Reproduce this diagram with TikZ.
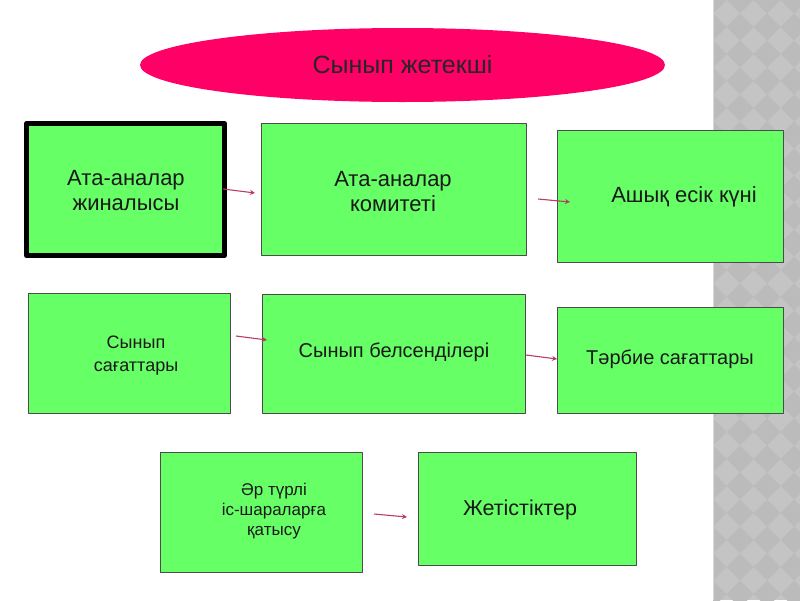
\documentclass[tikz,border=0pt]{standalone}
\usepackage{fontspec}
\setmainfont{Liberation Sans}
\usetikzlibrary{arrows.meta,shapes.geometric}

\definecolor{boxgreen}{HTML}{66FF66}
\definecolor{ovalpink}{HTML}{FF0066}
\definecolor{arrowred}{HTML}{B83C64}
\definecolor{stripA}{HTML}{C4C4C4}
\definecolor{stripB}{HTML}{BBBBBB}

\begin{document}
\begin{tikzpicture}[x=1pt,y=-1pt, line join=round,
  box/.style={draw=black!70, fill=boxgreen, line width=0.9pt, inner sep=0pt},
  txt/.style={align=center, text=black!90, font=\fontsize{22}{25}\selectfont},
  arr/.style={draw=arrowred, line width=1.1pt, -{Stealth[length=5pt,width=5pt]}}]
\useasboundingbox (0,0) rectangle (800,600);
\fill[white] (0,0) rectangle (800,600);
% grey strip at the right
\begin{scope}
\clip (713,0) rectangle (800,600);
\fill[stripA] (713,0) rectangle (800,600);
\foreach \i in {0,...,4}
  \foreach \j in {0,...,23}
    \fill[stripB] ({713+27*\i+13.5},{27*\j}) -- ++(-13.5,13.5) -- ++(-13.5,-13.5) -- ++(13.5,-13.5) -- cycle;
\end{scope}
\draw[white!85!black, line width=1pt] (713.5,0) -- (713.5,600);

% title oval
\node[ellipse, fill=ovalpink, minimum width=525pt, minimum height=74pt, inner sep=0pt,
  text=black!85, font=\fontsize{25}{29}\selectfont] (head) at (402.5,65) {Сынып жетекші};

% boxes
\node[box, draw=black, line width=5pt, minimum width=198pt, minimum height=132pt] (b1) at (125.5,189.5) {};
\node[box, minimum width=265pt, minimum height=132pt] (b2) at (393.5,189) {};
\node[box, minimum width=226pt, minimum height=132pt] (b3) at (670,196) {};
\node[box, minimum width=202pt, minimum height=120pt] (b4) at (129,353) {};
\node[box, minimum width=263pt, minimum height=119pt] (b5) at (393.5,353.5) {};
\node[box, minimum width=226pt, minimum height=106pt] (b6) at (670,360) {};
\node[box, minimum width=202pt, minimum height=120pt] (b7) at (261,512) {};
\node[box, minimum width=218pt, minimum height=113pt] (b8) at (527,508.5) {};

% texts
\node[txt] (t1) at (126,191) {Ата-аналар\\жиналысы};
\node[txt] (t2) at (393,192) {Ата-аналар\\комитеті};
\node[txt] (t3) at (684,197) {Ашық есік күні};
\node[txt, font=\fontsize{18}{23}\selectfont] (t4) at (136,356) {Сынып\\сағаттары};
\node[txt, font=\fontsize{20}{24}\selectfont] (t5) at (394,352) {Сынып белсенділері};
\node[txt, font=\fontsize{20}{24}\selectfont] (t6) at (670,359) {Тәрбие сағаттары};
\node[txt, font=\fontsize{17}{20}\selectfont] (t7) at (274,511) {Әр түрлі\\іс-шараларға\\қатысу};
\node[txt, font=\fontsize{21.5}{25}\selectfont] (t8) at (520,510) {Жетістіктер};

% arrows between boxes
\coordinate (a1s) at (223,189); \coordinate (a1e) at (255,193);
\coordinate (a2s) at (538,199); \coordinate (a2e) at (570,202);
\coordinate (a3s) at (236,336); \coordinate (a3e) at (267,340);
\coordinate (a4s) at (526,355); \coordinate (a4e) at (557,359);
\coordinate (a5s) at (374,514); \coordinate (a5e) at (407,517);
\draw[arr] (a1s) -- (a1e);
\draw[arr] (a2s) -- (a2e);
\draw[arr] (a3s) -- (a3e);
\draw[arr] (a4s) -- (a4e);
\draw[arr] (a5s) -- (a5e);
\end{tikzpicture}
\end{document}
